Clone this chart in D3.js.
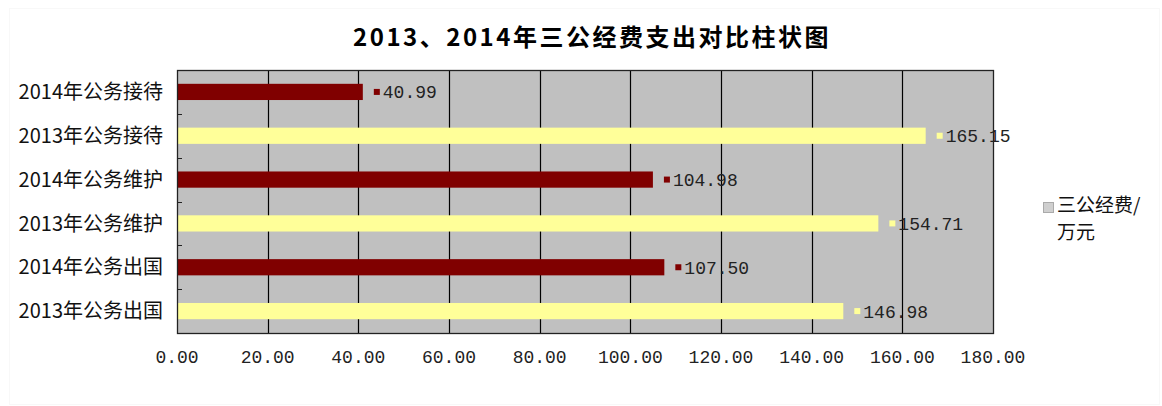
<!DOCTYPE html>
<meta charset="utf-8">
<script src="https://d3js.org/d3.v7.min.js"></script>
<style>
  body { margin: 0; background: #fff; }
</style>
<div id="chart"></div>
<script>
  // data, top row first
  var categories = ["2014年公务接待", "2013年公务接待", "2014年公务维护", "2013年公务维护", "2014年公务出国", "2013年公务出国"];
  var values = [40.99, 165.15, 104.98, 154.71, 107.50, 146.98];
  var years = ["2014", "2013", "2014", "2013", "2014", "2013"];
  var xTicks = [0, 20, 40, 60, 80, 100, 120, 140, 160, 180];
  var legendLines = ["三公经费/", "万元"];

  var W = 1162, H = 406;
  var margin = {top: 70, left: 177, right: 169, bottom: 73},
      width = W - margin.left - margin.right,
      height = H - margin.top - margin.bottom;

  var svg = d3.select("#chart").append("svg")
    .attr("width", W).attr("height", H);

  // faint outer frame
  svg.append("rect")
    .attr("x", 9.5).attr("y", 8.5).attr("width", W - 12).attr("height", H - 10)
    .attr("fill", "none").attr("stroke", "#f8f8f8");

  svg.append("text")
    .attr("x", 592).attr("y", 46)
    .attr("text-anchor", "middle")
    .style("font-family", "'Noto Sans CJK SC', sans-serif")
    .style("font-size", "24px").style("font-weight", "bold")
    .style("letter-spacing", "2.5px")
    .text("2013、2014年三公经费支出对比柱状图");

  var g = svg.append("g")
    .attr("transform", "translate(" + margin.left + "," + margin.top + ")");

  var x = d3.scaleLinear().domain([0, 180]).range([0, width]);
  var y = d3.scaleBand().domain(categories).range([0, height]).paddingInner(0.63).paddingOuter(0.315);
  var band = d3.scaleBand().domain(categories).range([0, height]);
  var color = d3.scaleOrdinal().domain(["2014", "2013"]).range(["#800000", "#ffff99"]);

  g.append("rect")
    .attr("width", width).attr("height", height)
    .attr("fill", "#c0c0c0");

  // vertical grid
  g.append("g").selectAll("line")
    .data(xTicks.slice(1, -1))
    .enter().append("line")
      .attr("x1", function(d){ return Math.round(x(d)) + 0.5; })
      .attr("x2", function(d){ return Math.round(x(d)) + 0.5; })
      .attr("y1", 0).attr("y2", height)
      .attr("stroke", "#000").attr("stroke-width", 1.2);

  // bars
  g.append("g").selectAll("rect")
    .data(values)
    .enter().append("rect")
      .attr("x", 0)
      .attr("y", function(d, i){ return y(categories[i]); })
      .attr("width", function(d){ return x(d); })
      .attr("height", y.bandwidth())
      .attr("fill", function(d, i){ return color(years[i]); });

  // frame
  g.append("rect")
    .attr("x", 0.5).attr("y", 0.5).attr("width", width).attr("height", height)
    .attr("fill", "none").attr("stroke", "#222").attr("stroke-width", 1.3);

  // small y ticks at band edges
  g.append("g").selectAll("line")
    .data(categories)
    .enter().append("line")
      .attr("x1", 0).attr("x2", 5)
      .attr("y1", function(d){ return Math.round(band(d)) + 0.5; })
      .attr("y2", function(d){ return Math.round(band(d)) + 0.5; })
      .attr("stroke", "#222");

  // value labels
  var lab = g.append("g").selectAll("g")
    .data(values)
    .enter().append("g")
      .attr("transform", function(d, i){
        return "translate(" + x(d) + "," + (y(categories[i]) + y.bandwidth() / 2) + ")";
      });
  lab.append("rect")
    .attr("x", 11).attr("y", -3).attr("width", 6).attr("height", 6)
    .attr("fill", function(d, i){ return color(years[i]); });
  lab.append("text")
    .attr("x", 20).attr("dy", "0.36em")
    .style("font-family", "'Liberation Mono', monospace")
    .style("font-size", "18px")
    .attr("fill", "#222")
    .text(function(d){ return d.toFixed(2); });

  // y labels
  g.append("g").selectAll("text")
    .data(categories)
    .enter().append("text")
      .attr("x", -14)
      .attr("y", function(d){ return band(d) + band.bandwidth() / 2; })
      .attr("dy", "0.36em")
      .attr("text-anchor", "end")
      .style("font-family", "'Noto Sans CJK SC', sans-serif")
      .style("font-size", "20px")
      .attr("fill", "#111")
      .text(function(d){ return d; });

  // x tick labels
  g.append("g").selectAll("text")
    .data(xTicks)
    .enter().append("text")
      .attr("x", function(d){ return x(d); })
      .attr("y", height + 30)
      .attr("text-anchor", "middle")
      .style("font-family", "'Liberation Mono', monospace")
      .style("font-size", "18px")
      .attr("fill", "#222")
      .text(function(d){ return d.toFixed(2); });

  // legend
  var leg = svg.append("g").attr("transform", "translate(1043,202)");
  leg.append("rect")
    .attr("x", 0.5).attr("y", 0.5).attr("width", 10).attr("height", 10)
    .attr("fill", "#cfcfcf").attr("stroke", "#aaa");
  leg.selectAll("text")
    .data(legendLines)
    .enter().append("text")
      .attr("x", 14)
      .attr("y", function(d, i){ return 10 + i * 27; })
      .style("font-family", "'Noto Sans CJK SC', sans-serif")
      .style("font-size", "19px")
      .attr("fill", "#111")
      .text(function(d){ return d; });
</script>
